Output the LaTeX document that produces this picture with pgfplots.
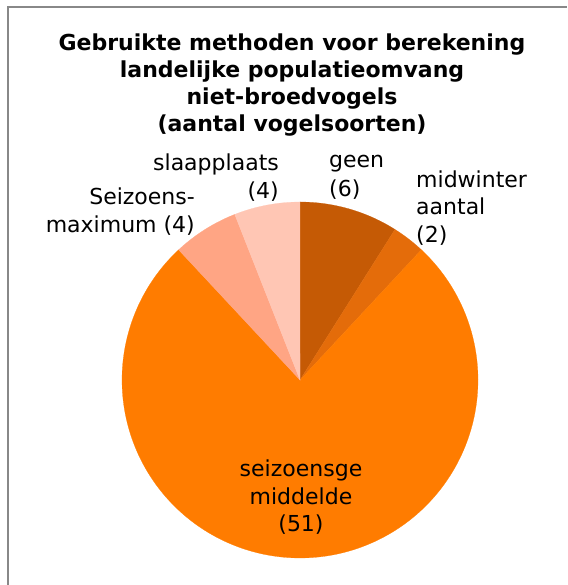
\documentclass[border=0pt]{standalone}
\usepackage{pgfplots}
\pgfplotsset{compat=1.18}
\usepackage{fontspec}
\setmainfont{DejaVu Sans}
\definecolor{cgeen}{HTML}{C55A05}
\definecolor{cmid}{HTML}{E46C0A}
\definecolor{cgem}{HTML}{FF7C00}
\definecolor{cmax}{HTML}{FFA584}
\definecolor{cslaap}{HTML}{FFC6B4}
\definecolor{cframe}{HTML}{888888}
\begin{document}
\begin{tikzpicture}
\path[use as bounding box] (0pt,0pt) rectangle (567pt,585pt);
\draw[cframe, line width=2pt] (8pt,0pt) -- (8pt,578pt) -- (567pt,578pt);
% values: geen 6, midwinter aantal 2, seizoensgemiddelde 51, seizoensmaximum 4, slaapplaats 4
\pgfmathsetmacro\tot{6+2+51+4+4}
\pgfmathsetmacro\aA{90}
\pgfmathsetmacro\aB{\aA-6/\tot*360}
\pgfmathsetmacro\aC{\aB-2/\tot*360}
\pgfmathsetmacro\aD{\aC-51/\tot*360}
\pgfmathsetmacro\aE{\aD-4/\tot*360}
\pgfmathsetmacro\aF{\aE-4/\tot*360}
\begin{axis}[at={(0pt,0pt)}, anchor=south west, scale only axis,
  width=567pt, height=585pt, xmin=-300, xmax=267, ymin=-205, ymax=380,
  hide axis, clip=false]
\addplot[fill=cgeen, draw=cgeen, line width=0.2pt, domain=\aB:\aA, samples=40, variable=\t] ({178*cos(t)},{178*sin(t)}) -- (axis cs:0,0) -- cycle;
\addplot[fill=cmid, draw=cmid, line width=0.2pt, domain=\aC:\aB, samples=20, variable=\t] ({178*cos(t)},{178*sin(t)}) -- (axis cs:0,0) -- cycle;
\addplot[fill=cgem, draw=cgem, line width=0.2pt, domain=\aD:\aC, samples=200, variable=\t] ({178*cos(t)},{178*sin(t)}) -- (axis cs:0,0) -- cycle;
\addplot[fill=cmax, draw=cmax, line width=0.2pt, domain=\aE:\aD, samples=20, variable=\t] ({178*cos(t)},{178*sin(t)}) -- (axis cs:0,0) -- cycle;
\addplot[fill=cslaap, draw=cslaap, line width=0.2pt, domain=\aF:\aE, samples=20, variable=\t] ({178*cos(t)},{178*sin(t)}) -- (axis cs:0,0) -- cycle;
% title
\node[align=center, font=\fontsize{22}{27}\selectfont\bfseries] at (axis cs:-8,294.5)
  {Gebruikte methoden voor berekening\\landelijke populatieomvang\\niet-broedvogels\\(aantal vogelsoorten)};
% labels
\node[anchor=east, align=right, inner sep=0pt, font=\fontsize{22}{28.5}\selectfont] at (axis cs:-21,202.5) {slaapplaats\\(4)};
\node[anchor=west, align=left, inner sep=0pt, font=\fontsize{22}{28.5}\selectfont] at (axis cs:29,202.5) {geen\\(6)};
\node[anchor=west, align=left, inner sep=0pt, font=\fontsize{22}{27.5}\selectfont] at (axis cs:116,172) {midwinter\\aantal\\(2)};
\node[anchor=east, align=right, inner sep=0pt, font=\fontsize{22}{27.5}\selectfont] at (axis cs:-105,168.5) {Seizoens-\\maximum (4)};
\node[align=center, inner sep=0pt, font=\fontsize{22}{27.5}\selectfont] at (axis cs:1,-117.5) {seizoensge\\middelde\\(51)};
\end{axis}
\end{tikzpicture}
\end{document}
